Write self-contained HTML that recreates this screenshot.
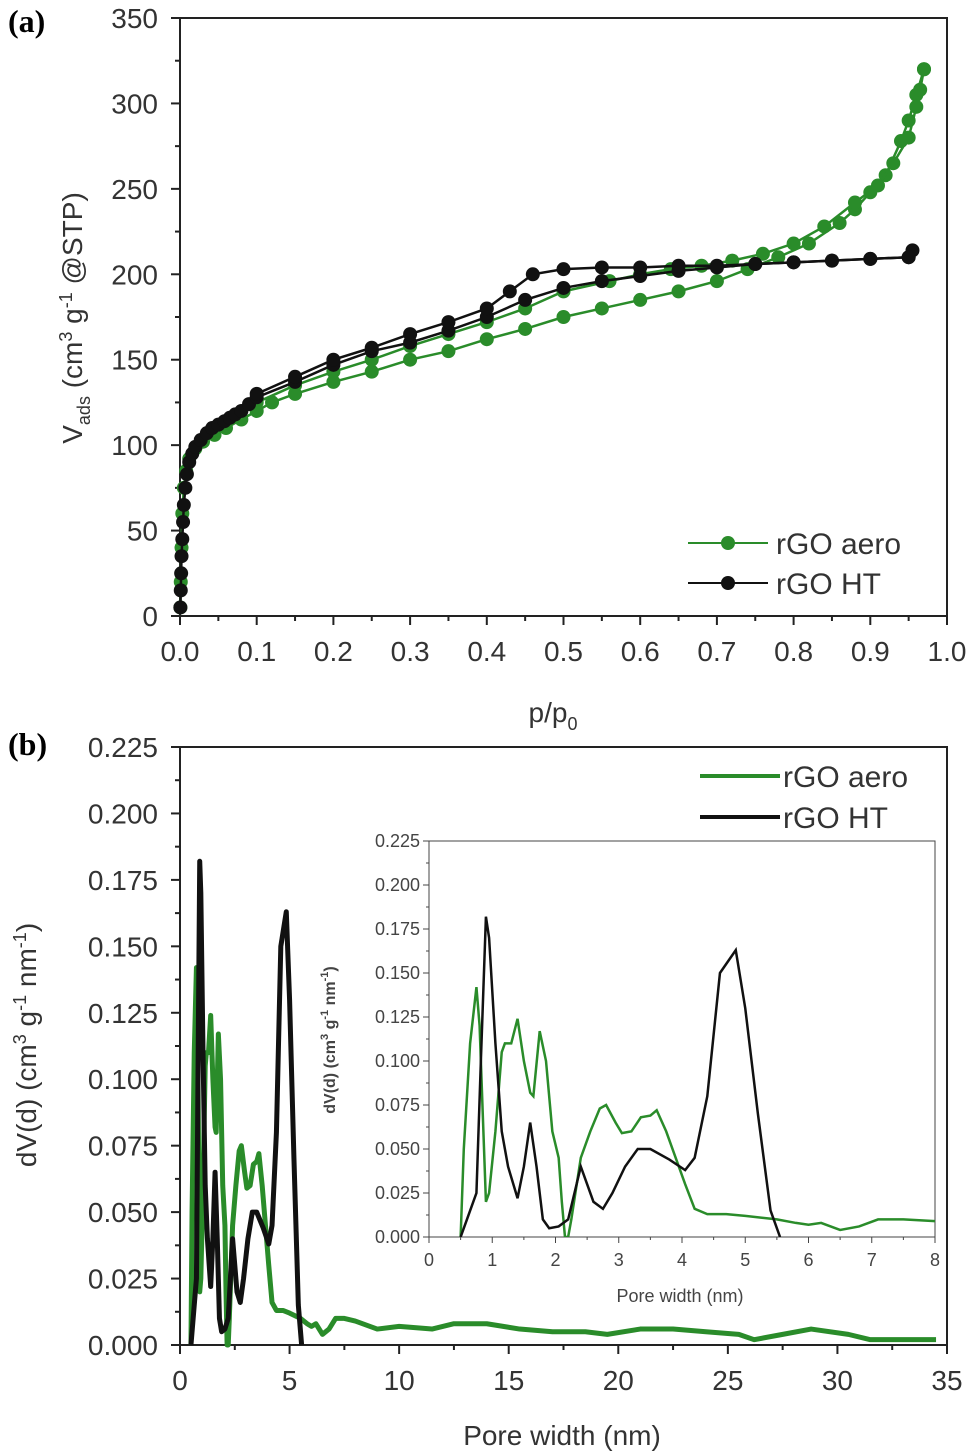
<!DOCTYPE html>
<html><head><meta charset="utf-8">
<style>
body{margin:0;background:#fff;}
svg{display:block;font-family:"Liberation Sans",sans-serif;}
</style></head>
<body>
<svg id="fig" width="970" height="1455" viewBox="0 0 970 1455">
<g id="pa"></g>
<g id="pb"></g>
<g id="pi"></g>
</svg>
<script>
// ---- Panel (a) data ----
const aeroAdsP=[0.0005,0.001,0.002,0.003,0.005,0.008,0.012,0.02,0.03,0.045,0.06,0.08,0.1,0.12,0.15,0.2,0.25,0.3,0.35,0.4,0.45,0.5,0.55,0.6,0.65,0.7,0.74,0.78,0.82,0.86,0.88,0.9,0.92,0.94,0.95,0.96,0.97];
const aeroAdsV=[5,20,40,60,75,85,92,98,102,106,110,115,120,125,130,137,143,150,155,162,168,175,180,185,190,196,203,210,218,230,238,248,258,278,290,305,320];
const aeroDesP=[0.97,0.965,0.96,0.95,0.93,0.91,0.88,0.84,0.8,0.76,0.72,0.68,0.64,0.6,0.56,0.5,0.45,0.4,0.35,0.3,0.25,0.2,0.15,0.1];
const aeroDesV=[320,308,298,280,265,252,242,228,218,212,208,205,203,200,196,190,180,172,165,158,150,143,135,125];
const htAdsP=[0.0005,0.001,0.0015,0.002,0.003,0.004,0.005,0.007,0.009,0.012,0.016,0.02,0.027,0.035,0.042,0.05,0.058,0.065,0.072,0.08,0.09,0.1,0.15,0.2,0.25,0.3,0.35,0.4,0.45,0.5,0.55,0.6,0.65,0.7,0.75,0.8,0.85,0.9,0.95];
const htAdsV=[5,15,25,35,45,55,65,75,83,90,95,99,103,107,110,112,114,116,118,120,124,128,137,147,155,160,167,175,185,192,196,199,202,204,206,207,208,209,210];
const htDesP=[0.955,0.95,0.9,0.85,0.8,0.75,0.7,0.65,0.6,0.55,0.5,0.46,0.43,0.4,0.35,0.3,0.25,0.2,0.15,0.1];
const htDesV=[214,210,209,208,207,206,205,205,204,204,203,200,190,180,172,165,157,150,140,130];
const aXTicks=["0.0","0.1","0.2","0.3","0.4","0.5","0.6","0.7","0.8","0.9","1.0"];
const aYTicks=[0,50,100,150,200,250,300,350];
// ---- Panel (b) data ----
const aeroW=[0.5,0.55,0.65,0.75,0.8,0.9,0.95,1.05,1.15,1.2,1.3,1.4,1.5,1.6,1.65,1.75,1.85,1.95,2.05,2.1,2.15,2.2,2.25,2.4,2.55,2.7,2.8,2.95,3.05,3.2,3.35,3.5,3.6,3.75,3.9,4.05,4.2,4.4,4.7,5.0,5.5,5.8,6.0,6.2,6.5,6.8,7.1,7.5,8,9,10,11.5,12.5,14,15.5,17,18.5,19.5,21,22.5,24,25.5,26.2,27.5,28.8,30.5,31.5,34.5];
const aeroD=[0,0.05,0.11,0.142,0.12,0.02,0.025,0.06,0.105,0.11,0.11,0.124,0.1,0.082,0.08,0.117,0.1,0.06,0.045,0.02,0,0,0.01,0.045,0.06,0.073,0.075,0.065,0.059,0.06,0.068,0.069,0.072,0.06,0.045,0.03,0.016,0.013,0.013,0.012,0.01,0.008,0.007,0.008,0.004,0.006,0.01,0.01,0.009,0.006,0.007,0.006,0.008,0.008,0.006,0.005,0.005,0.004,0.006,0.006,0.005,0.004,0.002,0.004,0.006,0.004,0.002,0.002];
const htW=[0.5,0.6,0.75,0.82,0.9,0.95,1.05,1.15,1.25,1.4,1.5,1.6,1.7,1.8,1.9,2.05,2.2,2.4,2.5,2.6,2.75,2.9,3.1,3.3,3.5,3.8,4.05,4.2,4.4,4.6,4.85,5.0,5.2,5.4,5.55];
const htD=[0,0.01,0.025,0.1,0.182,0.17,0.11,0.06,0.04,0.022,0.04,0.065,0.04,0.01,0.005,0.006,0.01,0.04,0.03,0.02,0.016,0.025,0.04,0.05,0.05,0.044,0.038,0.045,0.08,0.15,0.163,0.13,0.07,0.015,0];
const bXTicks=[0,5,10,15,20,25,30,35];
const bYTicks=["0.000","0.025","0.050","0.075","0.100","0.125","0.150","0.175","0.200","0.225"];
const iXTicks=[0,1,2,3,4,5,6,7,8];

const NS="http://www.w3.org/2000/svg";
function mk(parent,tag,attrs,text){const e=document.createElementNS(NS,tag);for(const k in attrs)e.setAttribute(k,attrs[k]);if(text!==undefined)e.textContent=text;parent.appendChild(e);return e;}
const GREEN="#2a8c2a";

// ===== Panel a =====
const pa=document.getElementById('pa');
const aL=180,aR=947,aT=18,aB=616;
const ax=v=>aL+(v/1.0)*(aR-aL);
const ay=v=>aB-(v/350)*(aB-aT);
let fr=mk(pa,'rect',{x:aL,y:aT,width:aR-aL,height:aB-aT,fill:'none',stroke:'#222','stroke-width':2});

for(let i=0;i<=20;i++){const x=ax(i*0.05);mk(pa,'line',{x1:x,x2:x,y1:aB,y2:aB+(i%2?5:9),stroke:'#222','stroke-width':2});}
aXTicks.forEach((t,i)=>{const e=mk(pa,'text',{x:ax(i*0.1),y:aB+45,'text-anchor':'middle','font-size':28,fill:'#333'},t);
});
for(let i=0;i<=14;i++){const y=ay(i*25);mk(pa,'line',{x1:aL,x2:aL-(i%2?5:9),y1:y,y2:y,stroke:'#222','stroke-width':2});}
aYTicks.forEach(t=>{const e=mk(pa,'text',{x:158,y:ay(t)+10,'text-anchor':'end','font-size':28,fill:'#333'},t);
});
let t1=mk(pa,'text',{x:553,y:722,'text-anchor':'middle','font-size':28,fill:'#333'});
t1.innerHTML='p/p<tspan font-size="18" dy="8">0</tspan>';

let t2=mk(pa,'text',{transform:'translate(82,318) rotate(-90)','text-anchor':'middle','font-size':28,fill:'#333'});
t2.innerHTML='V<tspan font-size="18" dy="8">ads</tspan><tspan dy="-8"> (cm</tspan><tspan font-size="18" dy="-10">3</tspan><tspan dy="10"> g</tspan><tspan font-size="18" dy="-10">-1</tspan><tspan dy="10"> @STP)</tspan>';

let la=mk(pa,'text',{x:8,y:32,'font-size':32,'font-weight':'bold','font-family':'Liberation Serif, serif',fill:'#000'},'(a)');

function series(P,V,col,name){
  const g=mk(pa,'g',{});
  mk(g,'polyline',{points:P.map((p,i)=>ax(p)+','+ay(V[i])).join(' '),fill:'none',stroke:col,'stroke-width':2.5});
  P.forEach((p,i)=>{const c=mk(g,'circle',{cx:ax(p),cy:ay(V[i]),r:7,fill:col});
  });
}
series(aeroAdsP,aeroAdsV,GREEN,'rgo-aero-adsorption');
series(aeroDesP,aeroDesV,GREEN,'rgo-aero-desorption');
series(htAdsP,htAdsV,'#111','rgo-ht-adsorption');
series(htDesP,htDesV,'#111','rgo-ht-desorption');
[[GREEN,'rGO aero',543],['#111','rGO HT',583]].forEach(([c,n,y])=>{
  const g=mk(pa,'g',{});
  mk(g,'line',{x1:688,x2:768,y1:y,y2:y,stroke:c,'stroke-width':2});mk(g,'circle',{cx:728,cy:y,r:7,fill:c});
  mk(g,'text',{x:776,y:y+11,'font-size':30,fill:'#333'},n);
});

// ===== Panel b =====
const pb=document.getElementById('pb');
const bL=180,bR=947,bT=747,bB=1345;
const bx=v=>bL+(v/35)*(bR-bL);
const by=v=>bB-(v/0.225)*(bB-bT);
fr=mk(pb,'rect',{x:bL,y:bT,width:bR-bL,height:bB-bT,fill:'none',stroke:'#222','stroke-width':2});

for(let i=0;i<=14;i++){const x=bx(i*2.5);mk(pb,'line',{x1:x,x2:x,y1:bB,y2:bB+(i%2?5:9),stroke:'#222','stroke-width':2});}
bXTicks.forEach(t=>{const e=mk(pb,'text',{x:bx(t),y:bB+45,'text-anchor':'middle','font-size':28,fill:'#333'},t);
});
for(let i=0;i<=18;i++){const y=by(i*0.0125);mk(pb,'line',{x1:bL,x2:bL-(i%2?5:9),y1:y,y2:y,stroke:'#222','stroke-width':2});}
bYTicks.forEach((t,i)=>{const e=mk(pb,'text',{x:158,y:by(i*0.025)+10,'text-anchor':'end','font-size':28,fill:'#333'},t);
});
t1=mk(pb,'text',{x:562,y:1445,'text-anchor':'middle','font-size':28,fill:'#333'},'Pore width (nm)');

t2=mk(pb,'text',{transform:'translate(36,1045) rotate(-90)','text-anchor':'middle','font-size':28,fill:'#333'});
t2.innerHTML='dV(d) (cm<tspan font-size="18" dy="-10">3</tspan><tspan dy="10"> g</tspan><tspan font-size="18" dy="-10">-1</tspan><tspan dy="10"> nm</tspan><tspan font-size="18" dy="-10">-1</tspan><tspan dy="10">)</tspan>';

la=mk(pb,'text',{x:8,y:755,'font-size':32,'font-weight':'bold','font-family':'Liberation Serif, serif',fill:'#000'},'(b)');

let l=mk(pb,'polyline',{points:aeroW.map((w,i)=>bx(w)+','+by(aeroD[i])).join(' '),fill:'none',stroke:GREEN,'stroke-width':5,'stroke-linejoin':'round'});

l=mk(pb,'polyline',{points:htW.map((w,i)=>bx(w)+','+by(htD[i])).join(' '),fill:'none',stroke:'#111','stroke-width':5,'stroke-linejoin':'round'});

[[GREEN,'rGO aero',776],['#111','rGO HT',817]].forEach(([c,n,y])=>{
  const g=mk(pb,'g',{});
  mk(g,'line',{x1:700,x2:780,y1:y,y2:y,stroke:c,'stroke-width':4});
  mk(g,'text',{x:783,y:y+11,'font-size':30,fill:'#333'},n);
});

// ===== Inset =====
const pi=document.getElementById('pi');
const iL=429,iR=935,iT=841,iB=1237;
const ix=v=>iL+(v/8)*(iR-iL);
const iy=v=>iB-(v/0.225)*(iB-iT);
mk(pi,'rect',{x:iL,y:iT,width:iR-iL,height:iB-iT,fill:'#fff',stroke:'#444','stroke-width':1});
for(let i=0;i<=16;i++){const x=ix(i*0.5);mk(pi,'line',{x1:x,x2:x,y1:iB,y2:iB+(i%2?3:6),stroke:'#444','stroke-width':1});}
iXTicks.forEach(t=>{const e=mk(pi,'text',{x:ix(t),y:iB+29,'text-anchor':'middle','font-size':18,fill:'#444'},t);
});
for(let i=0;i<=18;i++){const y=iy(i*0.0125);mk(pi,'line',{x1:iL,x2:iL-(i%2?3:6),y1:y,y2:y,stroke:'#444','stroke-width':1});}
bYTicks.forEach((t,i)=>{const e=mk(pi,'text',{x:iL-9,y:iy(i*0.025)+6,'text-anchor':'end','font-size':18,fill:'#444'},t);
});
t1=mk(pi,'text',{x:680,y:1302,'text-anchor':'middle','font-size':18,fill:'#444'},'Pore width (nm)');

t2=mk(pi,'text',{transform:'translate(335,1040) rotate(-90)','text-anchor':'middle','font-size':16,'font-weight':'bold',fill:'#444'});
t2.innerHTML='dV(d) (cm<tspan font-size="11" dy="-7">3</tspan><tspan dy="7"> g</tspan><tspan font-size="11" dy="-7">-1</tspan><tspan dy="7"> nm</tspan><tspan font-size="11" dy="-7">-1</tspan><tspan dy="7">)</tspan>';

mk(pi,'clipPath',{id:'ic'});
mk(document.getElementById('ic'),'rect',{x:iL,y:iT,width:iR-iL,height:iB-iT});
l=mk(pi,'polyline',{points:aeroW.map((w,i)=>ix(w)+','+iy(aeroD[i])).join(' '),fill:'none',stroke:GREEN,'stroke-width':2.5,'clip-path':'url(#ic)'});

l=mk(pi,'polyline',{points:htW.map((w,i)=>ix(w)+','+iy(htD[i])).join(' '),fill:'none',stroke:'#111','stroke-width':2.5,'clip-path':'url(#ic)'});

</script>
</body></html>
